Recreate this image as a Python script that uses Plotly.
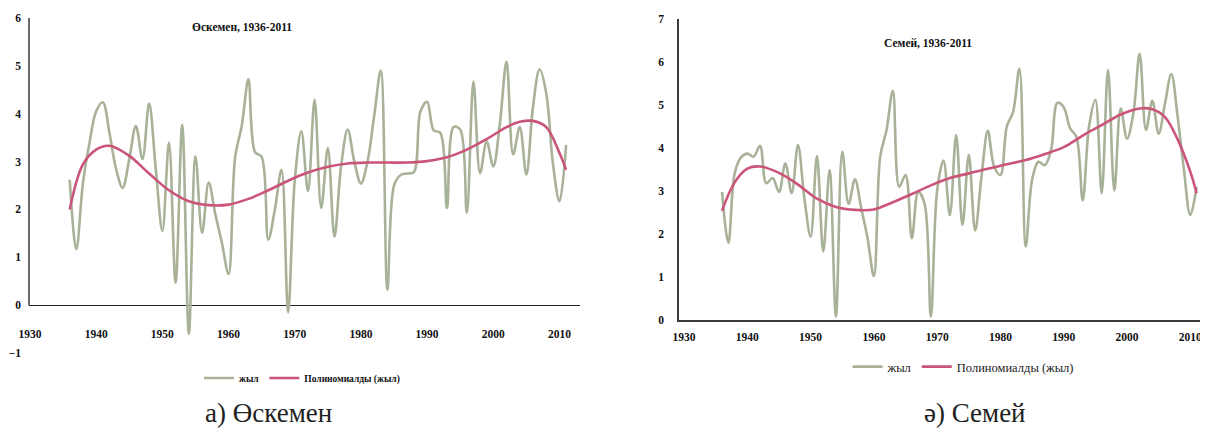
import plotly.graph_objects as go

years = list(range(1936, 2012))

oskemen = [2.62, 1.17, 2.55, 3.40, 4.05, 4.24, 3.60, 2.85, 2.45, 3.05,
           3.74, 3.05, 4.21, 2.85, 1.55, 3.40, 0.47, 3.77, -0.60, 3.11,
           1.51, 2.56, 1.90, 1.30, 0.65, 3.10, 3.75, 4.72, 3.20, 3.10,
           1.37, 2.00, 2.83, -0.15, 2.60, 3.63, 2.38, 4.29, 2.03, 3.28,
           1.43, 2.90, 3.67, 3.00, 2.54, 3.00, 3.95, 4.90, 0.32, 2.50,
           2.72, 2.75, 2.78, 4.05, 4.25, 3.65, 3.60, 2.03, 3.72, 3.67,
           1.93, 4.67, 2.76, 3.42, 2.90, 3.80, 5.09, 3.15, 3.72, 2.73,
           4.15, 4.93, 4.43, 2.97, 2.17, 3.35]

semey = [2.98, 1.80, 3.41, 3.78, 3.87, 3.80, 4.05, 3.18, 3.30, 2.98,
         3.64, 2.95, 4.07, 2.85, 1.94, 3.81, 1.59, 3.49, 0.08, 3.91,
         2.70, 3.27, 2.60, 1.90, 1.02, 3.80, 4.42, 5.33, 3.10, 3.37,
         1.90, 2.98, 2.71, 0.08, 3.02, 3.71, 2.44, 4.30, 2.21, 3.84,
         2.08, 3.33, 4.40, 3.57, 3.37, 4.50, 4.84, 5.85, 1.71, 3.26,
         3.68, 3.60, 3.95, 5.05, 4.95, 4.46, 4.26, 2.78, 4.50, 5.12,
         2.95, 5.81, 3.01, 4.92, 4.22, 4.80, 6.19, 4.42, 5.10, 4.33,
         5.03, 5.72, 4.73, 3.49, 2.44, 3.10]

trend_years = [1936, 1938, 1940, 1942, 1945, 1948, 1951, 1954, 1957, 1960,
               1963, 1966, 1969, 1972, 1975, 1978, 1981, 1984, 1987, 1990,
               1993, 1996, 1999, 2002, 2004, 2006, 2008, 2010, 2011]
trend_oskemen = [2.00, 2.94, 3.25, 3.33, 3.12, 2.75, 2.40, 2.17, 2.09, 2.10,
                 2.22, 2.40, 2.60, 2.77, 2.89, 2.96, 2.98, 2.98, 2.98, 3.01,
                 3.09, 3.25, 3.47, 3.72, 3.83, 3.85, 3.72, 3.18, 2.83]
trend_semey = [2.54, 3.20, 3.52, 3.57, 3.42, 3.15, 2.82, 2.63, 2.56, 2.57,
               2.74, 2.93, 3.13, 3.30, 3.41, 3.52, 3.62, 3.72, 3.86, 4.02,
               4.29, 4.53, 4.78, 4.92, 4.90, 4.72, 4.20, 3.45, 2.95]

x_ticks = list(range(1930, 2011, 10))
name_data = "жыл"
name_trend = "Полиномиалды (жыл)"
title_left = "Өскемен, 1936-2011"
title_right = "Семей, 1936-2011"
caption_left = "а) Өскемен"
caption_right = "ә) Семей"

# page body has an 8px margin: figure is sized so it fits the 1208x434 window
OFF = 8
W, H = 1208 - OFF, 434 - OFF
GREEN = "rgb(168,178,152)"
RED = "rgb(203,84,122)"
AXIS = "#3a3a3a"
SERIF = "Liberation Serif"


def fx(xp):
    return (xp - OFF) / W


def fy(yp):
    return 1 - (yp - OFF) / H


fig = go.Figure()
fig.add_trace(go.Scatter(x=years, y=oskemen, mode="lines", name=name_data,
                         line=dict(color=GREEN, width=2.6, shape="spline", smoothing=1),
                         xaxis="x", yaxis="y", legend="legend"))
fig.add_trace(go.Scatter(x=trend_years, y=trend_oskemen, mode="lines", name=name_trend,
                         line=dict(color=RED, width=2.6, shape="spline", smoothing=1),
                         xaxis="x", yaxis="y", legend="legend"))
fig.add_trace(go.Scatter(x=years, y=semey, mode="lines", name=name_data,
                         line=dict(color=GREEN, width=2.6, shape="spline", smoothing=1),
                         xaxis="x2", yaxis="y2", legend="legend2"))
fig.add_trace(go.Scatter(x=trend_years, y=trend_semey, mode="lines", name=name_trend,
                         line=dict(color=RED, width=2.6, shape="spline", smoothing=1),
                         xaxis="x2", yaxis="y2", legend="legend2"))

tickfont = dict(family=SERIF, size=11.5, color="#111", weight="bold")

fig.update_layout(
    width=W, height=H,
    margin=dict(l=0, r=0, t=0, b=0),
    paper_bgcolor="white", plot_bgcolor="white",
    xaxis=dict(domain=[fx(29), fx(580)], range=[1929.85, 2013.1], anchor="free",
               position=fy(325), tickvals=x_ticks, showline=False, showgrid=False,
               zeroline=False, ticks="", tickfont=tickfont, automargin=False),
    yaxis=dict(domain=[fy(353), fy(18)], range=[-1, 6], anchor="x", dtick=1,
               showline=False, showgrid=False, zeroline=True, zerolinecolor="#222",
               zerolinewidth=1, ticks="", ticklabelstandoff=7, tickfont=tickfont,
               automargin=False),
    xaxis2=dict(domain=[fx(679), 1.0], range=[1929.2, 2012.8], anchor="y2",
                tickvals=x_ticks, showline=True, linecolor=AXIS, linewidth=1.5,
                showgrid=False, zeroline=False, ticks="outside", ticklen=5,
                tickcolor="rgba(0,0,0,0)", tickfont=tickfont, automargin=False),
    yaxis2=dict(domain=[fy(320), fy(19)], range=[0, 7], anchor="x2", dtick=1,
                showline=True, linecolor=AXIS, linewidth=1.5, showgrid=False,
                zeroline=False, ticks="", ticklabelstandoff=11,
                tickfont=tickfont, automargin=False),
    legend=dict(orientation="h", x=fx(302), xanchor="center", y=fy(378), yanchor="middle",
                font=dict(family=SERIF, size=9.5, color="#111", weight="bold"),
                itemwidth=30, bgcolor="rgba(0,0,0,0)"),
    legend2=dict(orientation="h", x=fx(963), xanchor="center", y=fy(367), yanchor="middle",
                 font=dict(family=SERIF, size=12.5, color="#222"),
                 itemwidth=30, bgcolor="rgba(0,0,0,0)"),
    showlegend=True,
)

fig.add_shape(type="line", xref="x domain", yref="y", x0=0, x1=0, y0=0, y1=6,
              line=dict(color=AXIS, width=1.5))

fig.add_annotation(text=title_left, xref="paper", yref="paper", x=fx(242), y=fy(27),
                   xanchor="center", yanchor="middle", showarrow=False,
                   font=dict(family=SERIF, size=11.5, color="#111", weight="bold"))
fig.add_annotation(text=title_right, xref="paper", yref="paper", x=fx(928), y=fy(43),
                   xanchor="center", yanchor="middle", showarrow=False,
                   font=dict(family=SERIF, size=11.5, color="#111", weight="bold"))
fig.add_annotation(text=caption_left, xref="paper", yref="paper", x=fx(268), y=fy(413),
                   xanchor="center", yanchor="middle", showarrow=False,
                   font=dict(family=SERIF, size=27, color="#222"))
fig.add_annotation(text=caption_right, xref="paper", yref="paper", x=fx(975), y=fy(413),
                   xanchor="center", yanchor="middle", showarrow=False,
                   font=dict(family=SERIF, size=27, color="#222"))

fig.write_html("out.html")
